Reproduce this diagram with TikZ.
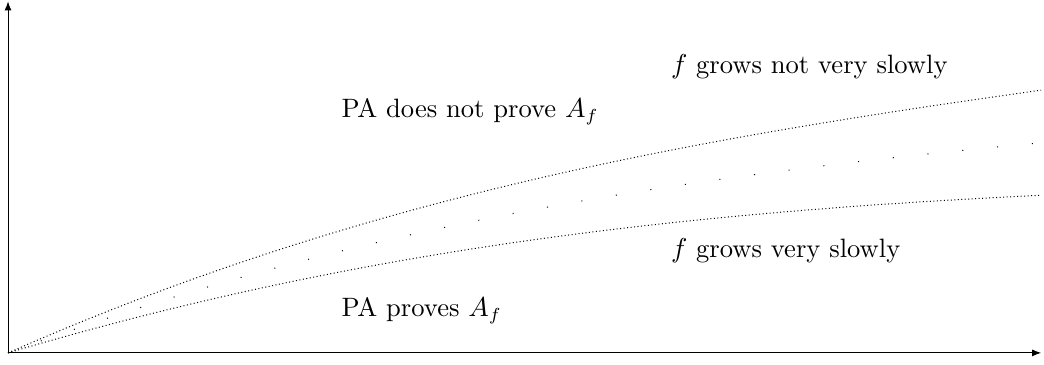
\documentclass[tikz,border=0pt]{standalone}
\usepackage{tikz}
\usetikzlibrary{arrows.meta}

\begin{document}
\begin{tikzpicture}[>={Latex[length=3.6pt,width=2.8pt]},font=\fontsize{10.65pt}{13pt}\selectfont]
\tikzstyle{lbl}=[anchor=base west,inner sep=0pt]
\tikzstyle{bound}=[densely dotted]
\tikzstyle{sparse}=[dash pattern=on 0.4pt off 13.6pt]
\useasboundingbox (-0.113,-0.169) rectangle (14.59,4.97);
\coordinate (O) at (0,0);
\coordinate (X) at (14.55,0);
\coordinate (Y) at (0,4.95);
\coordinate (hi) at (14.55,3.70);
\coordinate (mid) at (14.55,2.96);
\coordinate (lo) at (14.55,2.22);
\draw[->] (O) -- (X);
\draw[->] (O) -- (Y);
\draw[bound] (O) .. controls (5,2.2) and (9.55,3.0) .. (hi);
\draw[sparse] (O) .. controls (5,1.84) and (9.55,2.49) .. (mid);
\draw[bound] (O) .. controls (5,1.48) and (9.55,1.98) .. (lo);
\node[lbl] (notprove) at (4.69,3.32) {PA does not prove $A_f$};
\node[lbl] (proves) at (4.69,0.507) {PA proves $A_f$};
\node[lbl] (fast) at (9.33,3.94) {$f$ grows not very slowly};
\node[lbl] (slow) at (9.33,1.34) {$f$ grows very slowly};
\end{tikzpicture}
\end{document}
